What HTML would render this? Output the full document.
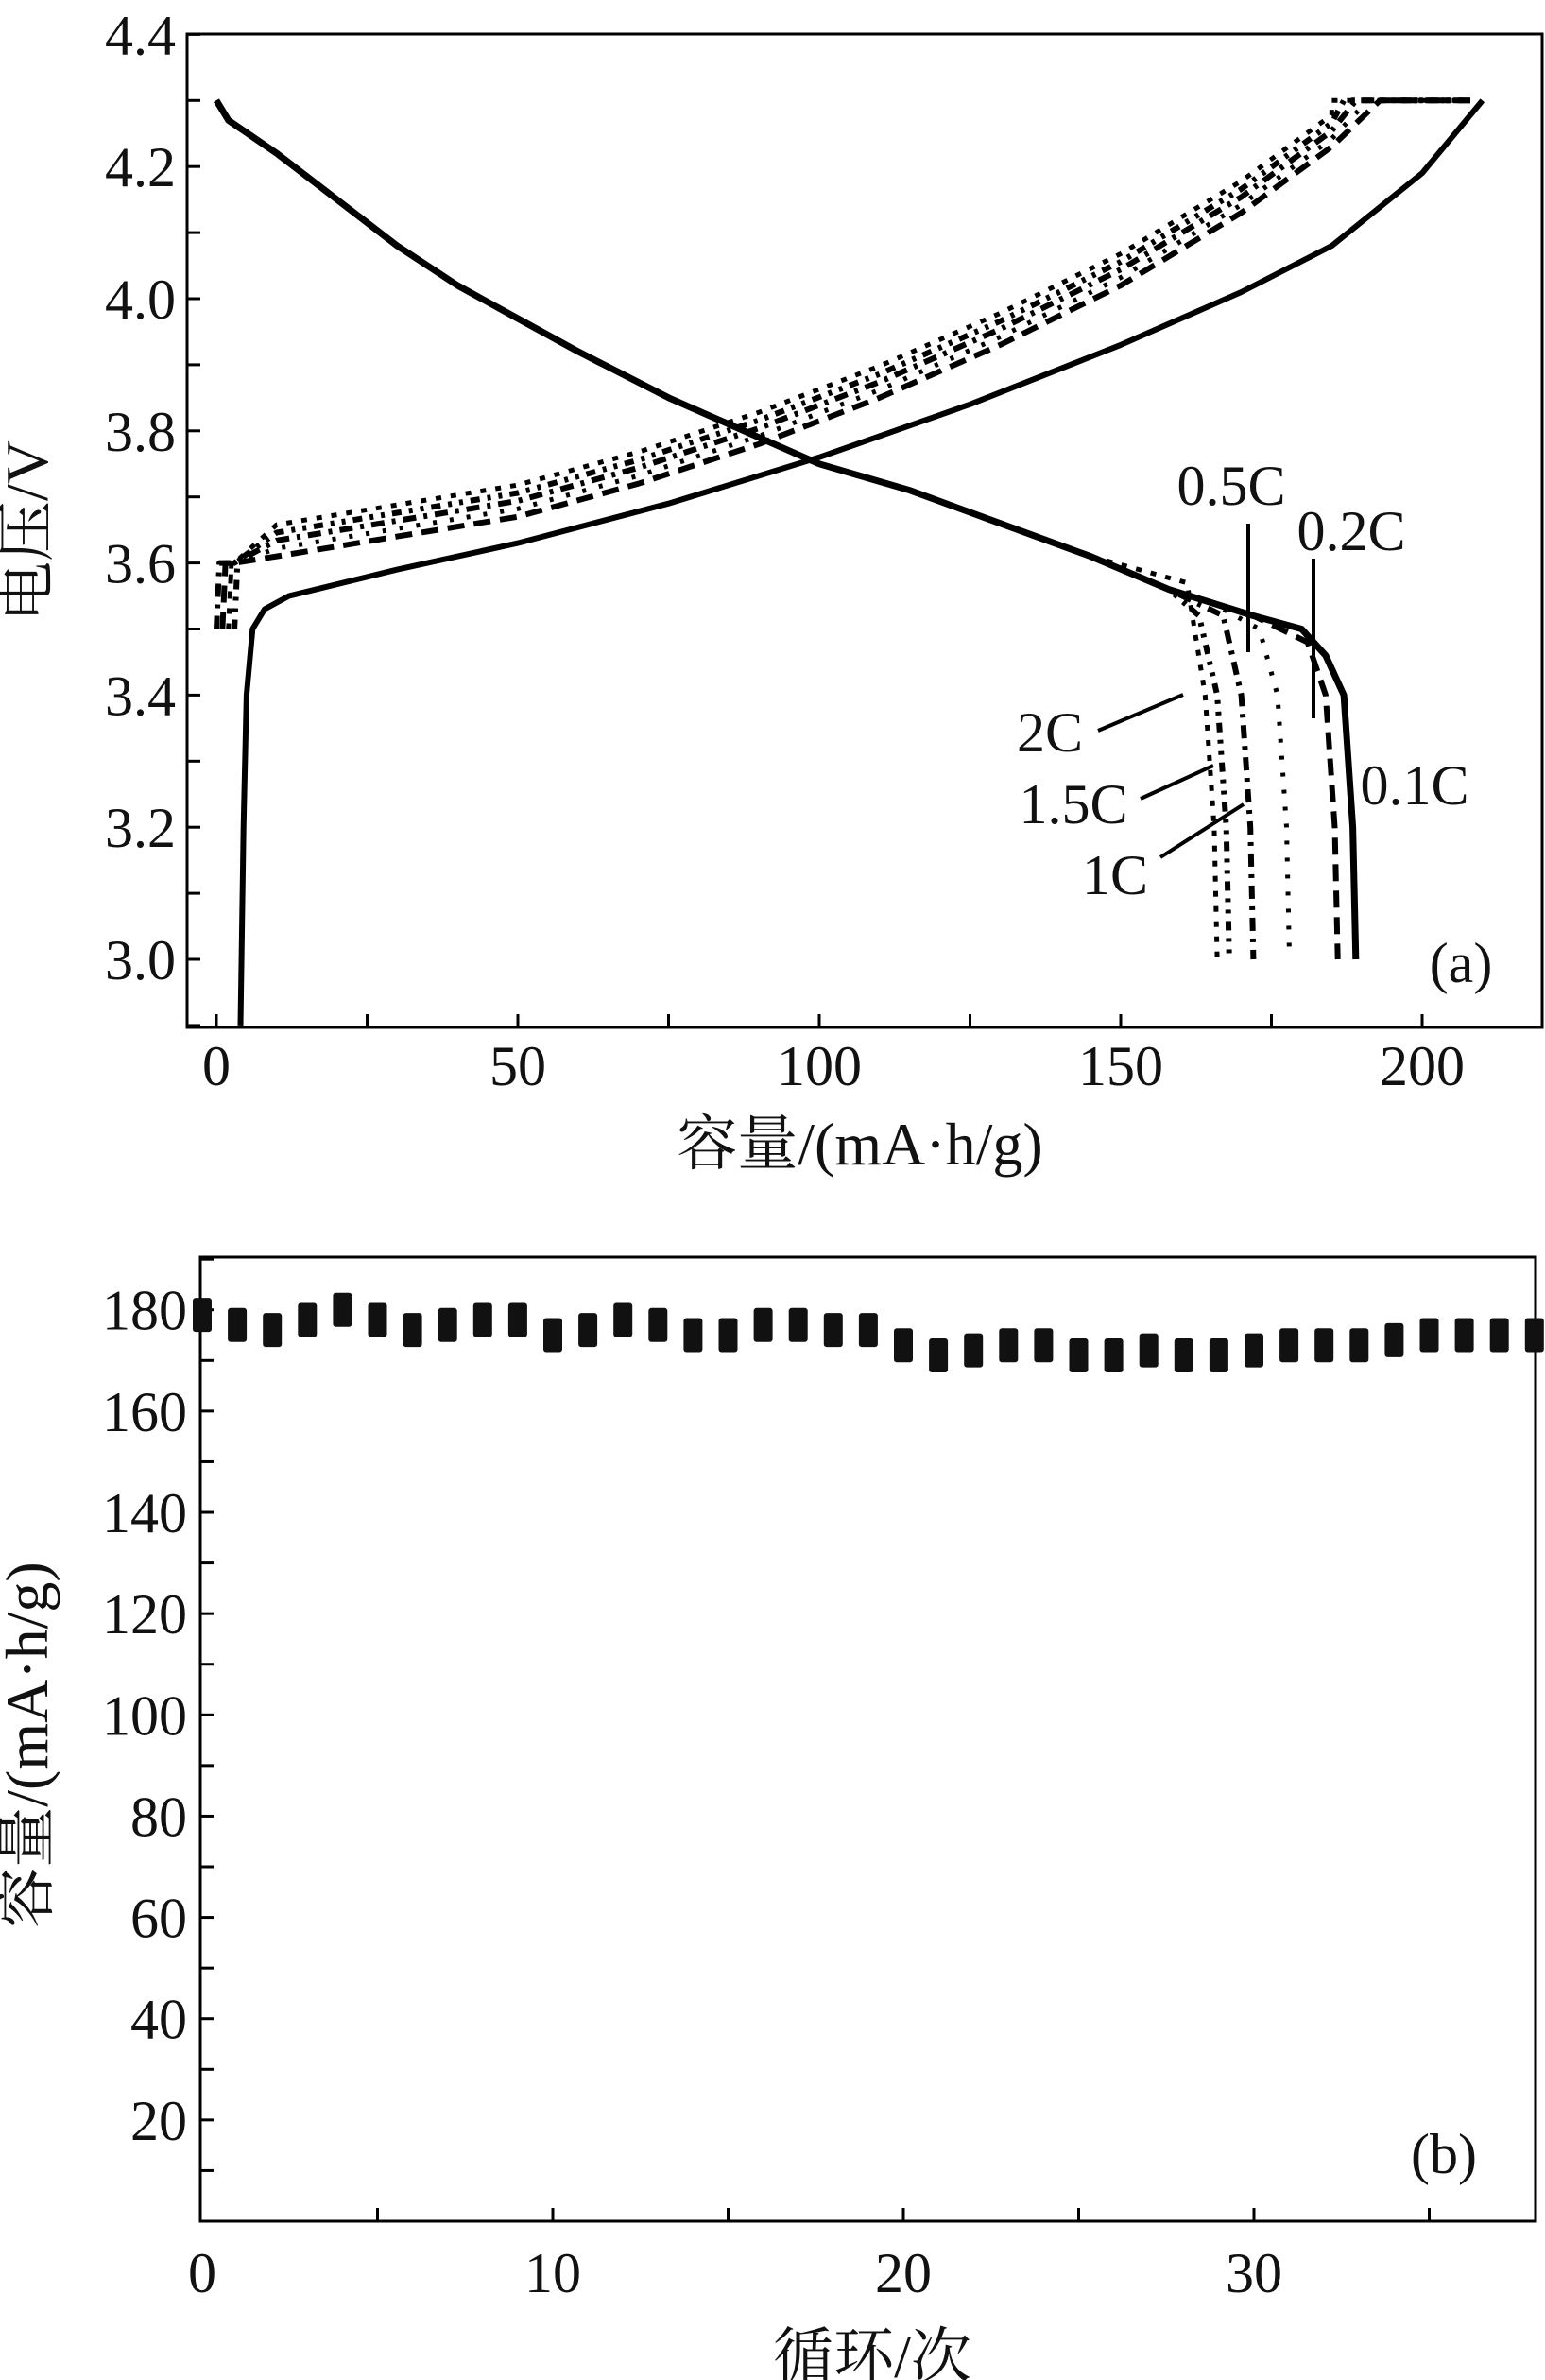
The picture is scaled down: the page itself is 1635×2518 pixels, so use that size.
<!DOCTYPE html>
<html><head><meta charset="utf-8"><style>
html,body{margin:0;padding:0;background:#fff}
svg{display:block}
text{font-family:"Liberation Serif","Noto Serif CJK SC",serif;fill:#111}
</style></head><body>
<svg id="s" width="1635" height="2518" viewBox="0 0 1635 2518" xmlns="http://www.w3.org/2000/svg">
<rect x="0" y="0" width="1635" height="2518" fill="#fff"/>
<g id="a"></g>
<g id="b"></g>
<text x="0" y="0" font-size="64" text-anchor="middle" transform="translate(50,562) rotate(-90)">电压/V</text>
<text x="910" y="1232" font-size="64" text-anchor="middle">容量/(mA·h/g)</text>
<text x="0" y="0" font-size="64" text-anchor="middle" transform="translate(50,1846) rotate(-90)">容量/(mA·h/g)</text>
<text x="923" y="2515" font-size="64" text-anchor="middle">循环/次</text>
<g font-size="60">
<text x="1303" y="534" text-anchor="middle">0.5C</text>
<text x="1430" y="582" text-anchor="middle">0.2C</text>
<text x="1497" y="851" text-anchor="middle">0.1C</text>
<text x="1111" y="795" text-anchor="middle">2C</text>
<text x="1136" y="871" text-anchor="middle">1.5C</text>
<text x="1180" y="946" text-anchor="middle">1C</text>
<text x="1546" y="1039" text-anchor="middle">(a)</text>
<text x="1528" y="2299" text-anchor="middle">(b)</text>
</g>
<g stroke="#000" stroke-width="4">
<line x1="1321" y1="554" x2="1321" y2="690"/>
<line x1="1390" y1="591" x2="1390" y2="760"/>
<line x1="1162" y1="773" x2="1252" y2="735"/>
<line x1="1207" y1="845" x2="1284" y2="810"/>
<line x1="1228" y1="907" x2="1316" y2="851"/>
</g>
</svg>
<script>
var NS="http://www.w3.org/2000/svg";
function el(p,t,a){var e=document.createElementNS(NS,t);for(var k in a)e.setAttribute(k,a[k]);p.appendChild(e);return e;}
function txt(p,x,y,s,anc){var e=el(p,"text",{x:x,y:y,"font-size":60,"text-anchor":anc||"middle"});e.textContent=s;}
var A=document.getElementById("a"),B=document.getElementById("b");
var ax=function(x){return 229+6.38*x}, ay=function(v){return 3112-699*v};
el(A,"rect",{x:198,y:36,width:1434,height:1051,fill:"none",stroke:"#000","stroke-width":3});
for(var v=2.9;v<=4.4001;v+=0.1){var y=ay(v);el(A,"line",{x1:198,y1:y,x2:212,y2:y,stroke:"#000","stroke-width":3});}
[3.0,3.2,3.4,3.6,3.8,4.0,4.2,4.4].forEach(function(v){txt(A,186,ay(v)+21,v.toFixed(1),"end");});
for(var x=0;x<=200;x+=25){var px=ax(x);el(A,"line",{x1:px,y1:1087,x2:px,y2:1073,stroke:"#000","stroke-width":3});}
[0,50,100,150,200].forEach(function(x){txt(A,ax(x),1148,String(x));});
function path(pts,attrs){var d=pts.map(function(p,i){return (i?"L":"M")+ax(p[0]).toFixed(1)+","+ay(p[1]).toFixed(1)}).join(" ");
 var a={d:d,fill:"none",stroke:"#000","stroke-linejoin":"round"};for(var k in attrs)a[k]=attrs[k];el(A,"path",a);}
function discharge(end){var base=[[0,4.3],[2,4.27],[10,4.22],[20,4.15],[30,4.08],[40,4.02],[50,3.97],[60,3.92],[75,3.85],[90,3.79],[100,3.75],[115,3.71],[130,3.66],[145,3.61],[158,3.56],[165,3.54],[172,3.52],[180,3.5],[183,3.47]];
 var pts=base.filter(function(p){return p[0]<end-8});var last=pts[pts.length-1];
 pts.push([end-5,last[1]-0.04]);pts.push([end-2,3.4]);pts.push([end-0.5,3.2]);pts.push([end,3.0]);return pts;}
var styles=[[189,{"stroke-width":7}],[186,{"stroke-width":6,"stroke-dasharray":"18,10"}],[178,{"stroke-width":5,"stroke-dasharray":"4,14"}],[172,{"stroke-width":6,"stroke-dasharray":"14,8,4,8"}],[168,{"stroke-width":6,"stroke-dasharray":"10,8,4,8,4,8"}],[166,{"stroke-width":5,"stroke-dasharray":"6,10"}]];
styles.forEach(function(s){path(discharge(s[0]),s[1]);});
path([[4,2.9],[4.5,3.2],[5,3.4],[6,3.5],[8,3.53],[12,3.55],[30,3.59],[50,3.63],[75,3.69],[100,3.76],[125,3.84],[150,3.93],[170,4.01],[185,4.08],[200,4.19],[210,4.3]],{"stroke-width":6});
var ch=[[1,{"stroke-width":6,"stroke-dasharray":"18,10"},0],[2,{"stroke-width":5,"stroke-dasharray":"4,14"},1],[0,{"stroke-width":6,"stroke-dasharray":"14,8,4,8"},2],[3,{"stroke-width":6,"stroke-dasharray":"10,8,4,8,4,8"},3],[2,{"stroke-width":5,"stroke-dasharray":"6,10"},4]];
ch.forEach(function(c,i){var o=c[2]*0.012;path([[c[0],3.5],[c[0]+0.5,3.6],[3,3.6],[10,3.61+o],[30,3.64+o],[50,3.67+o],[70,3.72+o],[90,3.78+o],[110,3.85+o],[130,3.93+o],[150,4.02+o],[170,4.13+o],[185,4.23+o],[193-i*2,4.3],[208,4.3]],c[1]);});
var bx=function(n){return 214+37.1*n}, by=function(c){return 2350-5.357*c};
el(B,"rect",{x:212,y:1330,width:1413,height:1020,fill:"none",stroke:"#000","stroke-width":3});
for(var c=10;c<=190;c+=10){var y=by(c);el(B,"line",{x1:212,y1:y,x2:226,y2:y,stroke:"#000","stroke-width":3});}
for(var c=20;c<=180;c+=20)txt(B,198,by(c)+21,String(c),"end");
for(var n=5;n<=35;n+=5){var px=bx(n);el(B,"line",{x1:px,y1:2350,x2:px,y2:2336,stroke:"#000","stroke-width":3});}
[0,10,20,30].forEach(function(n){txt(B,bx(n),2425,String(n));});
var vals=[179,177,176,178,180,178,176,177,178,178,175,176,178,177,175,175,177,177,176,176,173,171,172,173,173,171,171,172,171,171,172,173,173,173,174,175,175,175,175];
vals.forEach(function(v,n){var x=bx(n),y=by(v);el(B,"rect",{x:x-10,y:y-18,width:20,height:36,rx:3,fill:"#111"});});
</script>
</body></html>
